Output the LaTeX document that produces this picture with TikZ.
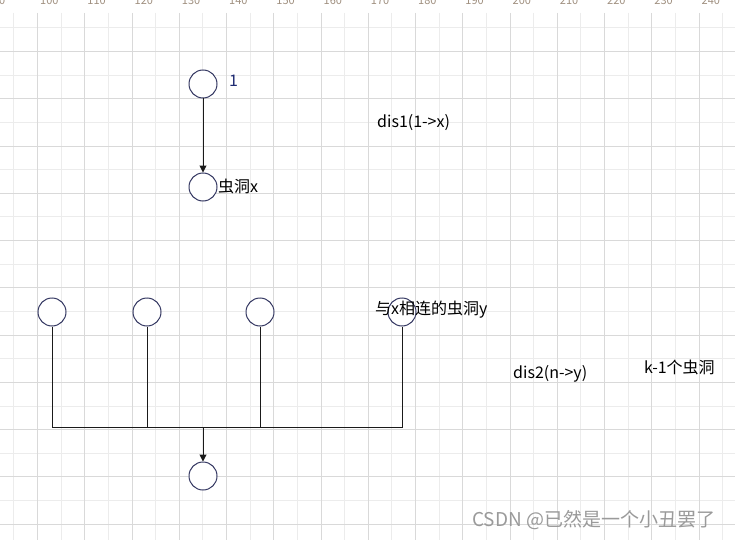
\documentclass[tikz,border=0pt]{standalone}
\usepackage{fontspec}
\setmainfont{Noto Sans CJK SC}
\usetikzlibrary{arrows.meta}
\definecolor{majgrid}{HTML}{D9D9D9}
\definecolor{mingrid}{HTML}{ECECEC}
\definecolor{rulertxt}{HTML}{A09080}
\definecolor{circstroke}{HTML}{343862}
\definecolor{navytxt}{HTML}{1E2A72}
\definecolor{linecol}{HTML}{1A1A1A}
\definecolor{wmark}{HTML}{9A9A9A}
\begin{document}
\begin{tikzpicture}[x=1pt,y=-1pt,
  majorgrid/.style={draw=majgrid,line width=1pt},
  minorgrid/.style={draw=mingrid,line width=1pt},
  rulerlbl/.style={text=rulertxt,font=\fontsize{11}{13}\selectfont,inner sep=0pt,anchor=base west},
  hole/.style={circle,draw=circstroke,fill=white,minimum size=28pt,inner sep=0pt,line width=1pt},
  conn/.style={draw=linecol,line width=1pt},
  arr/.style={-{Triangle[length=7pt,width=7pt]}},
  lbl/.style={font=\fontsize{16}{19}\selectfont,inner sep=0pt,anchor=west,text=black},
  wm/.style={font=\fontsize{19}{22}\selectfont,inner sep=0pt,anchor=west,text=wmark}
]
\useasboundingbox (0,0) rectangle (735,540);
\fill[white] (0,0) rectangle (735,540);
% grid
\foreach \k in {-1,...,15} \draw[minorgrid] ({37.5+47.25*\k+23.625},13) -- ({37.5+47.25*\k+23.625},540);
\foreach \k in {0,...,11} \draw[minorgrid] (0,{51.5+47.27*\k-23.635}) -- (735,{51.5+47.27*\k-23.635});
\foreach \k in {0,...,11} \draw[majorgrid] (0,{51.5+47.27*\k}) -- (735,{51.5+47.27*\k});
\foreach \k in {-1,...,15} \draw[majorgrid] ({37.5+47.25*\k},13) -- ({37.5+47.25*\k},540);
% ruler labels
\foreach \k in {-1,...,15} {
  \pgfmathtruncatemacro\lab{100+10*\k}
  \node[rulerlbl] (r\k) at ({37.5+47.25*\k+2.5},4.5) {\lab};
}
% connectors
\coordinate (j1) at (52,427);
\coordinate (j4) at (402,427);
\coordinate (jm) at (203,427);
\node[hole] (a) at (203,84) {};
\node[hole] (b) at (203,187) {};
\node[hole] (c1) at (52,312) {};
\node[hole] (c2) at (147,312) {};
\node[hole] (c3) at (260,312) {};
\node[hole] (c4) at (402,312) {};
\node[hole] (d) at (203,476) {};
\draw[conn,arr] (a) -- (b);
\draw[conn] (c1) -- (j1) -- (j4) -- (c4);
\draw[conn] (c2) -- (c2 |- j1);
\draw[conn] (c3) -- (c3 |- j1);
\draw[conn,arr] (jm) -- (d);
% labels
\node[lbl,text=navytxt] (t1) at (229,81) {1};
\node[lbl] (tx) at (218,186) {虫洞x};
\node[lbl] (td1) at (377,123) {dis1(1->x)};
\node[lbl] (ty) at (375,310) {与x相连的虫洞y};
\node[lbl] (td2) at (513,374) {dis2(n->y)};
\node[lbl] (tk) at (644,367) {k-1个虫洞};
\node[wm] (w) at (472,520) {CSDN @已然是一个小丑罢了};
\end{tikzpicture}
\end{document}
